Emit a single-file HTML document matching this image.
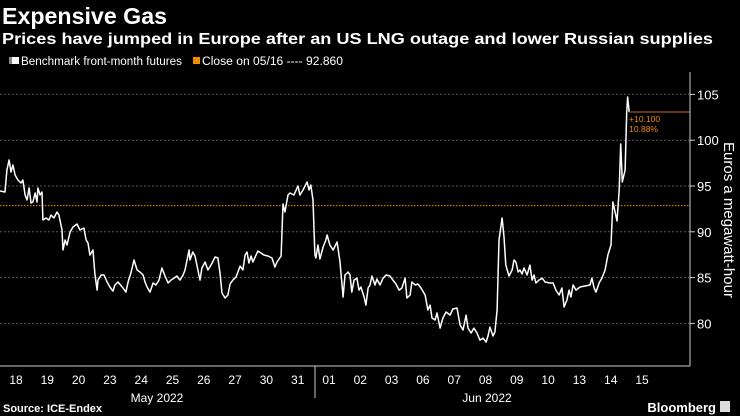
<!DOCTYPE html>
<html><head><meta charset="utf-8"><style>
body{margin:0;background:#000;width:740px;height:416px;overflow:hidden;font-family:"Liberation Sans",sans-serif;color:#fff}
</style></head><body>
<svg id="chart" width="740" height="416" xmlns="http://www.w3.org/2000/svg" style="position:absolute;left:0;top:0">
<text x="2" y="24" font-size="23" font-weight="bold" fill="#fff" textLength="165" lengthAdjust="spacingAndGlyphs">Expensive Gas</text>
<text x="2" y="44" font-size="16" font-weight="bold" fill="#fff" textLength="711" lengthAdjust="spacingAndGlyphs">Prices have jumped in Europe after an US LNG outage and lower Russian supplies</text>
<g>
<rect x="9" y="57" width="3" height="7" fill="#888"/>
<rect x="12" y="57" width="7" height="7" fill="#fff"/>
<text x="21" y="65" font-size="11.5" fill="#fff" textLength="161" lengthAdjust="spacingAndGlyphs">Benchmark front-month futures</text>
<rect x="193" y="57" width="7" height="7" fill="#f08c00"/>
<text x="202" y="65" font-size="11.5" fill="#fff" textLength="141" lengthAdjust="spacingAndGlyphs">Close on 05/16 ---- 92.860</text>
</g>
<g id="grid"></g>
<g id="series"></g>
<g id="axes"></g>
<text transform="translate(724,220) rotate(90)" text-anchor="middle" font-size="15" fill="#fff">Euros a megawatt-hour</text>
<text x="157" y="402" text-anchor="middle" font-size="12" fill="#fff">May 2022</text>
<text x="487" y="402" text-anchor="middle" font-size="12" fill="#fff">Jun 2022</text>
<text x="3" y="412" font-size="11" font-weight="bold" fill="#fff">Source: ICE-Endex</text>
<text x="716" y="412" text-anchor="end" font-size="13" font-weight="bold" fill="#fff">Bloomberg</text>
<rect x="720" y="401" width="10" height="11" fill="#ddd"/>
</svg>
<script>
const dayLabels=["18","19","20","23","24","25","26","27","30","31","01","02","03","06","07","08","09","10","13","14","15"];
const yTicks=[80,85,90,95,100,105];
const closeRef=92.86;
const changeLabels=["+10.100","10.88%"];
const times=[-0.51,-0.35,-0.29,-0.22,-0.16,-0.10,-0.03,0.06,0.16,0.22,0.29,0.35,0.42,0.48,0.54,0.61,0.67,0.70,0.77,0.83,0.86,0.96,1.05,1.12,1.21,1.31,1.37,1.47,1.50,1.57,1.63,1.73,1.82,1.95,2.04,2.17,2.24,2.30,2.36,2.46,2.52,2.59,2.62,2.72,2.81,2.91,3.00,3.10,3.16,3.26,3.42,3.51,3.58,3.67,3.77,3.87,3.96,4.06,4.12,4.19,4.28,4.38,4.47,4.57,4.66,4.76,4.86,4.95,5.05,5.14,5.24,5.34,5.40,5.53,5.56,5.65,5.72,5.81,5.88,5.94,6.04,6.13,6.23,6.36,6.45,6.52,6.58,6.68,6.77,6.84,6.93,7.03,7.16,7.25,7.32,7.38,7.44,7.51,7.57,7.67,7.73,7.92,8.05,8.18,8.27,8.34,8.47,8.53,8.59,8.69,8.75,8.88,9.01,9.07,9.17,9.30,9.36,9.42,9.49,9.55,9.58,9.65,9.71,9.81,9.90,9.94,10.03,10.13,10.26,10.35,10.45,10.51,10.61,10.67,10.73,10.80,10.89,10.96,11.02,11.12,11.18,11.25,11.31,11.37,11.47,11.53,11.63,11.73,11.82,11.95,12.04,12.14,12.24,12.33,12.43,12.49,12.59,12.65,12.75,12.84,12.94,13.07,13.16,13.23,13.29,13.39,13.45,13.55,13.64,13.74,13.87,13.96,14.09,14.19,14.28,14.38,14.44,14.54,14.63,14.73,14.82,14.92,15.02,15.08,15.14,15.24,15.30,15.37,15.43,15.53,15.59,15.65,15.75,15.85,15.91,15.97,16.04,16.10,16.17,16.23,16.33,16.42,16.49,16.55,16.61,16.71,16.81,16.90,17.06,17.16,17.25,17.35,17.44,17.51,17.60,17.67,17.73,17.80,17.89,18.02,18.18,18.34,18.40,18.47,18.53,18.63,18.72,18.82,18.91,19.01,19.07,19.14,19.20,19.27,19.32,19.37,19.46,19.51,19.54,19.59];
const prices=[94.45,94.34,96.75,97.84,96.53,97.29,96.2,95.66,95.33,95.66,94.02,93.47,94.78,93.14,93.25,94.24,93.25,94.78,94.02,94.34,91.29,91.51,91.29,91.83,91.51,92.16,91.83,90.2,88.01,89.1,88.56,89.98,90.52,90.85,90.2,90.41,89.1,88.78,87.47,88.01,85.39,83.64,84.73,85.28,85.28,84.52,83.97,83.53,84.19,84.52,83.86,83.42,84.52,85.5,86.92,85.83,85.61,85.28,84.52,83.97,83.42,84.41,84.19,84.73,86.05,85.17,84.41,84.73,84.95,85.17,84.73,85.28,85.83,88.01,86.92,87.79,87.36,85.83,84.73,86.05,86.7,85.83,86.37,87.25,87.14,85.39,83.32,82.77,83.1,84.3,84.73,85.06,86.26,85.83,87.47,87.79,86.59,87.36,86.7,87.47,87.9,87.47,87.36,87.14,86.15,86.7,87.36,93.03,92.16,94.02,94.24,94.02,95.0,94.02,94.56,95.44,94.56,95.11,93.47,87.47,87.14,88.56,87.03,88.34,89.1,89.65,88.56,88.01,88.89,86.7,82.88,85.28,85.61,85.28,83.42,84.73,84.95,83.64,83.97,82.88,82.0,83.86,84.19,85.17,84.19,84.84,84.19,84.95,85.28,85.17,84.73,84.3,83.64,83.86,84.95,82.77,83.1,84.52,84.19,84.3,83.86,83.1,81.46,82.0,80.59,80.37,81.13,79.49,80.59,81.24,80.91,81.57,81.68,79.82,79.28,80.91,79.49,78.95,79.49,78.95,78.18,78.4,77.96,78.62,79.6,78.62,79.06,81.46,89.1,91.51,89.43,86.37,85.17,85.83,86.92,86.7,85.61,85.83,85.39,86.05,85.28,86.37,84.73,85.28,84.41,84.73,84.95,84.52,84.41,84.41,83.64,83.1,83.86,81.79,82.55,83.64,82.88,84.19,83.64,83.97,84.08,84.19,84.95,83.86,83.42,84.41,84.95,85.83,87.47,88.56,93.25,92.16,91.18,94.56,99.59,95.44,96.75,102.97,104.72,103.08];

const NS="http://www.w3.org/2000/svg";
const plotL=0,plotR=690,axisY=366;
function xScale(t){return 16+t*31.3;}
function yScale(v){return 186+(95-v)*9.16;}
function mk(tag,attrs,parent){const e=document.createElementNS(NS,tag);for(const k in attrs)e.setAttribute(k,attrs[k]);parent.appendChild(e);return e;}
const grid=document.getElementById('grid'),series=document.getElementById('series'),axes=document.getElementById('axes');

yTicks.forEach(v=>{
  const g=mk('line',{x1:plotL,x2:plotR,y1:yScale(v),y2:yScale(v),stroke:'#5a5a5a','stroke-width':1,'stroke-dasharray':'2 2'},grid);
  
  
  const tk=mk('line',{x1:plotR,x2:plotR+5,y1:yScale(v),y2:yScale(v),stroke:'#ccc'},axes);
  
  
  const tx=mk('text',{x:plotR+7,y:yScale(v)+5,'font-size':13,fill:'#fff'},axes);
  tx.textContent=v;
  
  
});
const cl=mk('line',{x1:plotL,x2:plotR,y1:yScale(closeRef),y2:yScale(closeRef),stroke:'#f08c00','stroke-width':1,'stroke-dasharray':'1.5 1.5'},grid);



let d='';
for(let i=0;i<times.length;i++){d+=(i?'L':'M')+xScale(times[i]).toFixed(1)+','+yScale(prices[i]).toFixed(1);}
const pl=mk('path',{d:d,fill:'none',stroke:'#fff','stroke-width':1.5,'stroke-linejoin':'round'},series);



const last=prices[prices.length-1],lastX=xScale(times[times.length-1]);
const al=mk('line',{x1:lastX,x2:plotR,y1:yScale(last),y2:yScale(last),stroke:'#a0522d','stroke-width':1.2},series);


changeLabels.forEach((s,i)=>{
  const t=mk('text',{x:lastX,y:yScale(last)+10+i*10,'font-size':8.5,fill:'#f08c00'},series);
  t.textContent=s;
  
  
});

const ya=mk('line',{x1:plotR,x2:plotR,y1:72,y2:axisY,stroke:'#ccc'},axes);


const xa=mk('line',{x1:plotL,x2:plotR,y1:axisY,y2:axisY,stroke:'#ccc'},axes);


const dv=mk('line',{x1:315,x2:315,y1:axisY,y2:398,stroke:'#ccc'},axes);


dayLabels.forEach((s,i)=>{
  const t=mk('text',{x:xScale(i),y:384,'text-anchor':'middle','font-size':12,fill:'#fff'},axes);
  t.textContent=s;
  
  
});
</script>
</body></html>
